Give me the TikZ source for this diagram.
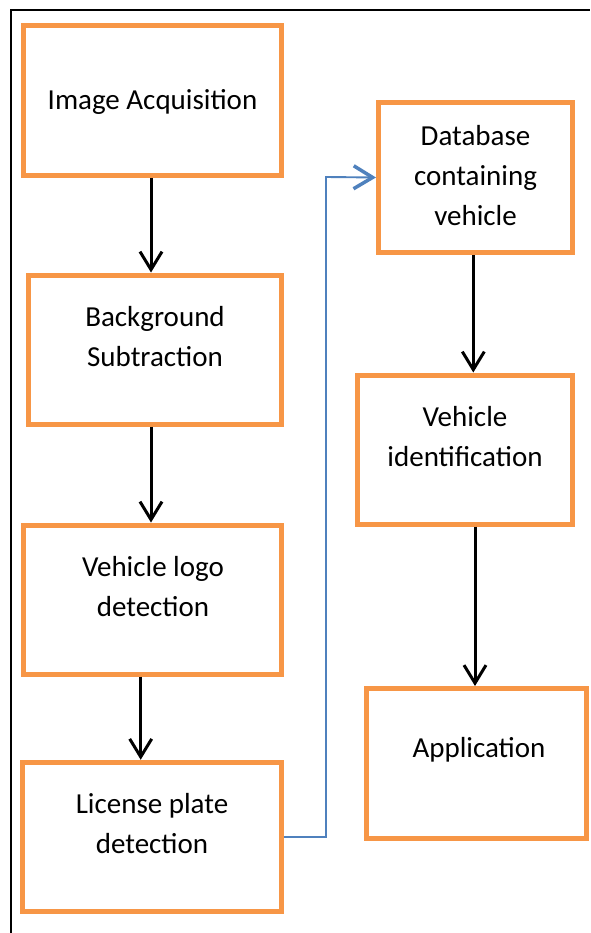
\documentclass[tikz,border=0pt]{standalone}
\usepackage{fontspec}
\setmainfont{Carlito}
\usetikzlibrary{arrows.meta}
\definecolor{boxorange}{HTML}{F79646}
\definecolor{linkblue}{HTML}{4F81BD}
\tikzset{
  stagebox/.style={draw=boxorange, line width=5pt, rectangle, inner sep=0pt},
  stagetext/.style={align=center, font=\fontsize{29}{40}\selectfont, inner sep=0pt},
  flowarrow/.style={draw=black, line width=3pt,
    -{Straight Barb[length=18pt, width=22pt, line width=3pt]}},
  linkarrow/.style={draw=linkblue, line width=1.9pt,
    -{Straight Barb[length=19pt, width=23pt, line width=3.5pt]}}
}
\begin{document}
\begin{tikzpicture}[x=1pt, y=-1pt]
  \useasboundingbox (0,0) rectangle (590,933);
  % page frame (left and top rules)
  \draw[line width=2pt] (11,933) -- (11,10.3) -- (590,10.3);

  % left column
  \node[stagebox, minimum width=258pt, minimum height=150pt] (b1) at (152.5,100.5) {};
  \node[stagebox, minimum width=253pt, minimum height=149pt] (b2) at (155,349.5) {};
  \node[stagebox, minimum width=258pt, minimum height=149pt] (b3) at (152.5,599.5) {};
  \node[stagebox, minimum width=259pt, minimum height=149.5pt] (b4) at (152,837) {};
  % right column
  \node[stagebox, minimum width=194pt, minimum height=150pt] (b5) at (475.5,177.5) {};
  \node[stagebox, minimum width=215.5pt, minimum height=149pt] (b6) at (464.75,449.5) {};
  \node[stagebox, minimum width=220pt, minimum height=149.5pt] (b7) at (476.5,763.25) {};

  % labels
  \node[stagetext] (t1) at (152.5,101.5) {Image Acquisition};
  \node[stagetext] (t2) at (155,337) {Background\\Subtraction};
  \node[stagetext] (t3) at (153,587) {Vehicle logo\\detection};
  \node[stagetext] (t4) at (152,824) {License plate\\detection};
  \node[stagetext] (t5) at (475.5,176) {Database\\containing\\vehicle};
  \node[stagetext] (t6) at (465,437) {Vehicle\\identification};
  \node[stagetext] (t7) at (479,749.5) {Application};

  % arrow columns
  \coordinate (c1) at (151,0);
  \coordinate (c3) at (140.7,0);
  \coordinate (c4) at (473.3,0);
  \coordinate (c5) at (475,0);
  \coordinate (bend) at (326,177);

  \draw[flowarrow] (b1.south -| c1) -- (b2.north -| c1);
  \draw[flowarrow] (b2.south -| c1) -- (b3.north -| c1);
  \draw[flowarrow] (b3.south -| c3) -- (b4.north -| c3);
  \draw[flowarrow] (b5.south -| c4) -- (b6.north -| c4);
  \draw[flowarrow] (b6.south -| c5) -- (b7.north -| c5);
  \draw[linkarrow] (b4.east) -| (bend) -- (b5.west);
\end{tikzpicture}
\end{document}
